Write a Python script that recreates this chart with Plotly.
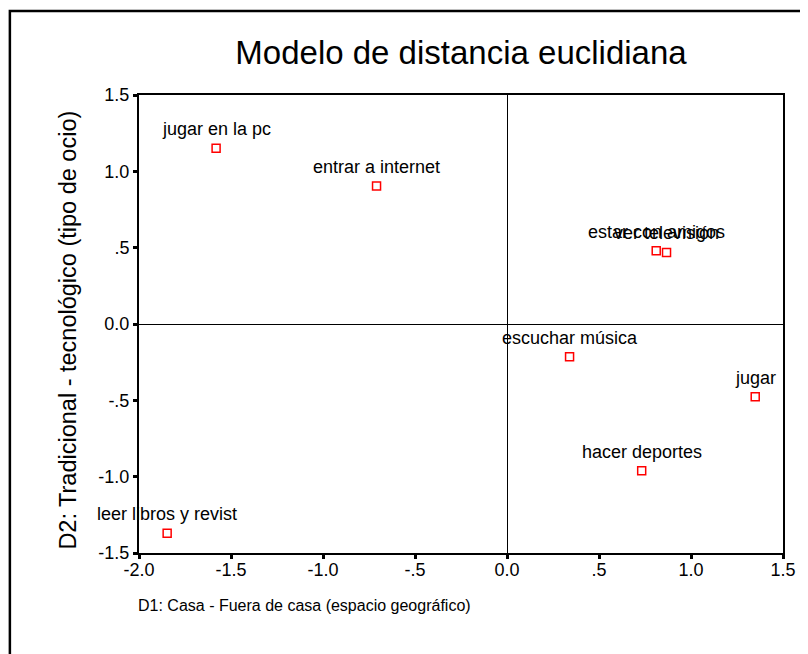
import plotly.graph_objects as go

# Data
labels = ["jugar en la pc", "entrar a internet", "estar con amigos", "ver televisión",
          "escuchar música", "jugar", "hacer deportes", "leer libros y revist"]
d1 = [-1.581, -0.709, 0.811, 0.867, 0.340, 1.349, 0.732, -1.847]
d2 = [1.151, 0.904, 0.480, 0.469, -0.215, -0.477, -0.962, -1.370]

x_tickvals = [-2.0, -1.5, -1.0, -0.5, 0.0, 0.5, 1.0, 1.5]
x_ticktext = ["-2.0", "-1.5", "-1.0", "-.5", "0.0", ".5", "1.0", "1.5"]
y_tickvals = [-1.5, -1.0, -0.5, 0.0, 0.5, 1.0, 1.5]
y_ticktext = ["-1.5", "-1.0", "-.5", "0.0", ".5", "1.0", "1.5"]

title_text = "Modelo de distancia euclidiana"
x_title = "D1: Casa - Fuera de casa (espacio geográfico)"
y_title = "D2: Tradicional - tecnológico (tipo de ocio)"

FONT = "Liberation Sans, Arial, sans-serif"
W, H = 800, 646  # page body has an 8px margin in the browser

fig = go.Figure()
fig.add_trace(go.Scatter(
    x=d1, y=d2, mode="markers",
    marker=dict(symbol="square-open", size=8, color="#ff0000",
                line=dict(color="#ff0000", width=1.5)),
    hovertext=labels, showlegend=False, cliponaxis=False,
))

annotations = []
for lx, ly, lt in zip(d1, d2, labels):
    annotations.append(dict(x=lx, y=ly, xref="x", yref="y", text=lt,
                            showarrow=False, yshift=19, xanchor="center",
                            yanchor="middle",
                            font=dict(family=FONT, size=18, color="#000000")))

annotations.append(dict(x=-0.004, y=-0.114, xref="paper", yref="paper", text=x_title,
                        showarrow=False, xanchor="left", yanchor="middle",
                        font=dict(family=FONT, size=16, color="#000000")))
annotations.append(dict(x=-0.1095, y=0.4866, xref="paper", yref="paper", text=y_title,
                        showarrow=False, xanchor="center", yanchor="middle", textangle=-90,
                        font=dict(family=FONT, size=23.5, color="#000000")))

fig.update_layout(
    width=W, height=H,
    margin=dict(l=131, r=23, t=87, b=101, pad=0),
    paper_bgcolor="white", plot_bgcolor="white",
    font=dict(family=FONT, color="#000000"),
    title=dict(text=title_text, x=0.5, xref="paper", xanchor="center",
               y=1 - 44 / H, yref="container", yanchor="middle",
               font=dict(family=FONT, size=33, color="#000000")),
    annotations=annotations,
    shapes=[dict(type="rect", xref="paper", yref="paper",
                 x0=-0.2005, x1=1.2, y0=-0.6, y1=1.1835,
                 line=dict(color="#000000", width=2.5), fillcolor="rgba(0,0,0,0)",
                 layer="below")],
)

fig.update_xaxes(range=[-2.0, 1.5], tickvals=x_tickvals, ticktext=x_ticktext,
                 showgrid=False, zeroline=True, zerolinecolor="#000000", zerolinewidth=1.3,
                 showline=True, mirror=True, linecolor="#000000", linewidth=2,
                 ticks="outside", ticklen=4, tickwidth=3, tickcolor="#000000",
                 ticklabelstandoff=-5,
                 tickfont=dict(family=FONT, size=18, color="#000000"))
fig.update_yaxes(range=[-1.5, 1.5], tickvals=y_tickvals, ticktext=y_ticktext,
                 showgrid=False, zeroline=True, zerolinecolor="#000000", zerolinewidth=1.3,
                 showline=True, mirror=True, linecolor="#000000", linewidth=2,
                 ticks="outside", ticklen=4, tickwidth=3, tickcolor="#000000",
                 tickfont=dict(family=FONT, size=18, color="#000000"))

fig.write_html("out.html")
